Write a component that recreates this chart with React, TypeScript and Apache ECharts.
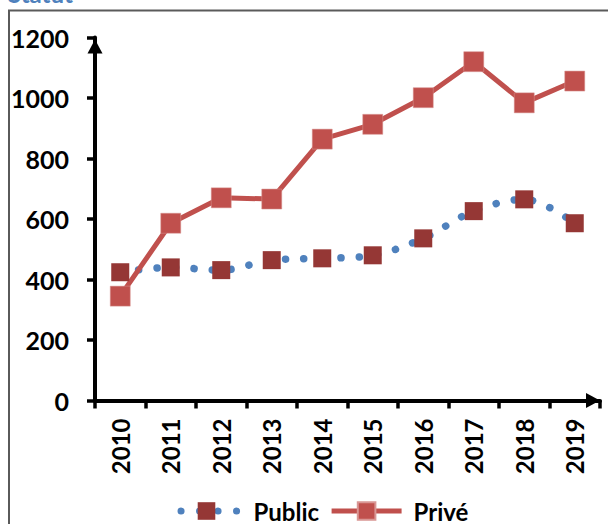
import React, { useEffect, useRef } from "react";
import * as echarts from "echarts";

const years = ["2010", "2011", "2012", "2013", "2014", "2015", "2016", "2017", "2018", "2019"];
const publicValues = [424, 440, 431, 464, 470, 480, 536, 626, 665, 586];
const priveValues = [345, 586, 670, 666, 864, 913, 1001, 1120, 984, 1056];
const seriesNames = ["Public", "Privé"];
const titleText = "Statut";

const FONT = "Lato";

export default function App() {
  const ref = useRef<HTMLDivElement>(null);
  useEffect(() => {
    if (!ref.current) return;
    const chart = echarts.init(ref.current, undefined, { renderer: "svg" });
    chart.setOption({
      animation: false,
      backgroundColor: "#ffffff",
      textStyle: { fontFamily: FONT },
      graphic: [
        {
          type: "rect",
          shape: { x: 9, y: 10.5, width: 700, height: 600 },
          style: { fill: "none", stroke: "#5a5a5a", lineWidth: 2 },
          silent: true,
        },
        {
          type: "text",
          x: 8,
          y: -19,
          style: {
            text: titleText,
            fill: "#4F81BD",
            font: `bold 24px ${FONT}`,
            textVerticalAlign: "top",
          },
          silent: true,
        },
      ],
      grid: { left: 95, right: 8, top: 37.5, bottom: 123.5, containLabel: false },
      legend: {
        data: [
          {
            name: seriesNames[0],
            lineStyle: { color: "#4F81BD", width: 7, type: [0.1, 18.4], cap: "round", dashOffset: 9 },
          },
          {
            name: seriesNames[1],
            lineStyle: { color: "#C0504D", width: 5 },
          },
        ],
        left: 163,
        top: 494,
        itemWidth: 70,
        itemHeight: 22,
        itemGap: 10,
        textStyle: { fontFamily: FONT, fontWeight: "bold", fontSize: 24, color: "#000", padding: [0, 0, 0, 7] },
      },
      xAxis: {
        type: "category",
        data: years,
        boundaryGap: true,
        axisLine: {
          show: true,
          lineStyle: { color: "#000", width: 4 },
          symbol: ["none", "triangle"],
          symbolSize: [15, 14],
          symbolOffset: [0, -7],
        },
        axisTick: { show: true, inside: false, length: 8, lineStyle: { color: "#000", width: 3.5 } },
        axisLabel: {
          rotate: 90,
          margin: 18,
          fontFamily: FONT,
          fontWeight: "bold",
          fontSize: 24,
          color: "#000",
        },
        splitLine: { show: false },
      },
      yAxis: {
        type: "value",
        min: 0,
        max: 1200,
        interval: 200,
        axisLine: {
          show: true,
          lineStyle: { color: "#000", width: 4 },
          symbol: ["none", "triangle"],
          symbolSize: [15, 14],
          symbolOffset: [0, -9],
        },
        axisTick: { show: true, inside: false, length: 8, lineStyle: { color: "#000", width: 3.5 } },
        axisLabel: {
          margin: 26,
          fontFamily: FONT,
          fontWeight: "bold",
          fontSize: 25,
          color: "#000",
          formatter: (v: number) => String(v),
        },
        splitLine: { show: false },
      },
      series: [
        {
          name: seriesNames[0],
          type: "line",
          data: publicValues,
          smooth: 0.35,
          symbol: "rect",
          symbolSize: 18,
          itemStyle: { color: "#953735" },
          lineStyle: { color: "#4F81BD", width: 7.5, type: [0.1, 18.4], cap: "round" },
        },
        {
          name: seriesNames[1],
          type: "line",
          data: priveValues,
          symbol: "rect",
          symbolSize: 20,
          itemStyle: { color: "#C0504D", borderColor: "#D99694", borderWidth: 0.5 },
          lineStyle: { color: "#C0504D", width: 5 },
        },
      ],
    });
    return () => chart.dispose();
  }, []);
  return (
    <div
      ref={ref}
      style={{ position: "absolute", left: 0, top: 0, width: 608, height: 524 }}
    />
  );
}
